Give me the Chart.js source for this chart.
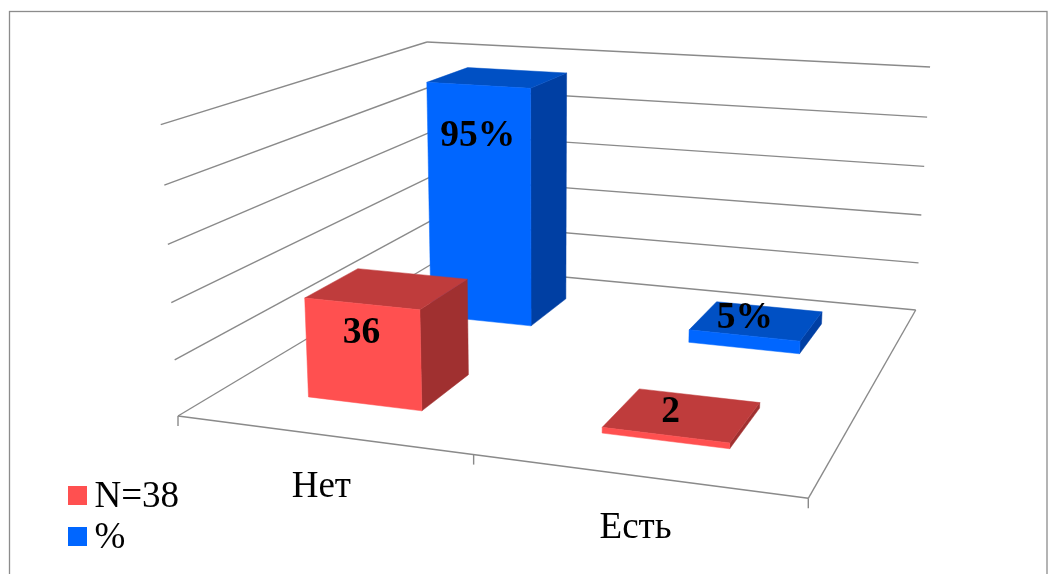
<!DOCTYPE html>
<html lang="ru">
<head>
<meta charset="utf-8">
<title>Диаграмма</title>
<style>
  html, body { margin: 0; padding: 0; background: #ffffff; }
  canvas { display: block; }
</style>
<script src="https://cdn.jsdelivr.net/npm/chart.js@4/dist/chart.umd.min.js"></script>
</head>
<body>
<canvas id="chart" width="1048" height="574"></canvas>
<script>
// Chart data
const categories = ['Нет', 'Есть'];
const seriesNames = ['N=38', '%'];
const countValues = [36, 2];
const percentValues = [95, 5];
const valueSuffixes = ['', '%'];

// Axis range of the value scale
const axisMin = 0;
const axisMax = 100;
const axisStep = 20;

// Look of the columns: front, top and side faces of each series
const faceColors = [
  { front: '#ff5050', top: '#bf3c3c', side: '#a03030' },
  { front: '#0066ff', top: '#0050c4', side: '#003fa3' }
];
const SERIF = '"Liberation Serif", "Times New Roman", serif';
const GRID_COLOR = '#8a8a8a';

// Share of a depth row taken up by a column
const DEPTH_PERCENT = 0.39;
// Height on the front face where a tall column's label sits, per series
const LABEL_RISE = [0.722, 0.795];

// Camera: projective map of (u along categories, h up, v into depth), each 0..1
const CAMERA = [
  [536.05, -24.5, 393.6, 178],
  [24.2, -297, -65.2, 416],
  [-0.1166, -0.045, 0.3262, 1]
];

function project(u, h, v) {
  const [a, b, c] = CAMERA;
  const w = c[0] * u + c[1] * h + c[2] * v + c[3];
  return {
    x: (a[0] * u + a[1] * h + a[2] * v + a[3]) / w,
    y: (b[0] * u + b[1] * h + b[2] * v + b[3]) / w
  };
}

function fillFace(ctx, points, color) {
  ctx.beginPath();
  points.forEach((p, i) => (i ? ctx.lineTo(p.x, p.y) : ctx.moveTo(p.x, p.y)));
  ctx.closePath();
  ctx.fillStyle = color;
  ctx.strokeStyle = color;
  ctx.lineWidth = 0.5;
  ctx.fill();
  ctx.stroke();
}

function strokeLine(ctx, a, b) {
  ctx.beginPath();
  ctx.moveTo(a.x, a.y);
  ctx.lineTo(b.x, b.y);
  ctx.stroke();
}

// Normalised box of one bar element, read from the chart's own scales
function columnBox(chart, datasetIndex, bar) {
  const area = chart.chartArea;
  const rows = chart.data.datasets.length;
  const u = (bar.x - area.left) / area.width;
  const halfU = bar.width / area.width / 2;
  const v = (datasetIndex + 0.5) / rows;
  const halfV = DEPTH_PERCENT / rows / 2;
  return {
    u, v,
    u0: u - halfU, u1: u + halfU,
    v0: v - halfV, v1: v + halfV,
    h0: (area.bottom - bar.base) / area.height,
    h1: (area.bottom - bar.y) / area.height
  };
}

// Bar controller that paints each bar as a column standing on the floor
class Column3dController extends Chart.BarController {
  draw() {
    const { ctx } = this.chart;
    const index = this.index;
    const colors = faceColors[index];
    this.getMeta().data.forEach((bar) => {
      const b = columnBox(this.chart, index, bar);
      fillFace(ctx, [
        project(b.u1, b.h0, b.v0), project(b.u1, b.h0, b.v1),
        project(b.u1, b.h1, b.v1), project(b.u1, b.h1, b.v0)
      ], colors.side);
      fillFace(ctx, [
        project(b.u0, b.h1, b.v0), project(b.u1, b.h1, b.v0),
        project(b.u1, b.h1, b.v1), project(b.u0, b.h1, b.v1)
      ], colors.top);
      fillFace(ctx, [
        project(b.u0, b.h0, b.v0), project(b.u1, b.h0, b.v0),
        project(b.u1, b.h1, b.v0), project(b.u0, b.h1, b.v0)
      ], colors.front);
    });
  }
}
Column3dController.id = 'column3d';
Column3dController.defaults = Chart.BarController.defaults;
Column3dController.overrides = Chart.BarController.overrides;
Chart.register(Column3dController);

// Outer frame, walls, floor and category ticks behind the columns
const roomPlugin = {
  id: 'room',
  beforeDatasetsDraw(chart) {
    const { ctx, scales } = chart;
    const area = chart.chartArea;
    ctx.save();
    ctx.strokeStyle = '#8c8c8c';
    ctx.lineWidth = 1.3;
    ctx.strokeRect(9.5, 11.5, 1037.5, 580);

    ctx.strokeStyle = GRID_COLOR;
    ctx.lineWidth = 1.4;
    scales.y.ticks.forEach((tick) => {
      const h = (area.bottom - scales.y.getPixelForValue(tick.value)) / area.height;
      if (h > 0) {
        strokeLine(ctx, project(0, h, 0), project(0, h, 1));
        strokeLine(ctx, project(0, h, 1), project(1, h, 1));
      }
    });

    const corners = [project(0, 0, 0), project(1, 0, 0), project(1, 0, 1), project(0, 0, 1)];
    corners.forEach((p, i) => strokeLine(ctx, p, corners[(i + 1) % 4]));

    // Ticks sit on the category boundaries of the front floor edge
    const n = categories.length;
    for (let i = 0; i <= n; i++) {
      const p = project(i / n, 0, 0);
      strokeLine(ctx, p, { x: p.x, y: p.y + 10 });
    }
    ctx.restore();
  },
  afterDatasetsDraw(chart) {
    const { ctx, scales } = chart;
    const area = chart.chartArea;
    ctx.save();
    ctx.fillStyle = '#000000';
    ctx.textAlign = 'center';

    // Category names below the front edge of the floor
    ctx.font = '37px ' + SERIF;
    ctx.textBaseline = 'alphabetic';
    chart.data.labels.forEach((label, i) => {
      const u = (scales.x.getPixelForValue(i) - area.left) / area.width;
      const p = project(u, 0, 0);
      ctx.fillText(label, p.x, p.y + 62);
    });

    // Value labels: on the front face of tall columns, on the lid of low ones
    ctx.font = 'bold 37.5px ' + SERIF;
    ctx.textBaseline = 'middle';
    chart.data.datasets.forEach((dataset, di) => {
      chart.getDatasetMeta(di).data.forEach((bar, i) => {
        const value = dataset.data[i];
        const b = columnBox(chart, di, bar);
        const text = value + valueSuffixes[di];
        if (value >= 10) {
          const p = project(b.u, b.h1 * LABEL_RISE[di], b.v0);
          ctx.fillText(text, p.x - 1, p.y + 1.5);
        } else {
          const p = project(b.u, b.h1, b.v);
          ctx.fillText(text, p.x - 12, p.y - 2);
        }
      });
    });
    ctx.restore();
  }
};

// Legend swatch: the square sits off-centre in its canvas to close up on the label
function swatch(color) {
  const c = document.createElement('canvas');
  c.width = 26;
  c.height = 23;
  const g = c.getContext('2d');
  g.fillStyle = color;
  g.fillRect(7, 0, 19, 19);
  return c;
}

new Chart(document.getElementById('chart'), {
  type: 'column3d',
  data: {
    labels: categories,
    datasets: [
      { label: seriesNames[0], data: countValues, backgroundColor: faceColors[0].front },
      { label: seriesNames[1], data: percentValues, backgroundColor: faceColors[1].front }
    ]
  },
  options: {
    responsive: false,
    animation: false,
    grouped: false,
    barPercentage: 0.4,
    categoryPercentage: 1,
    layout: { padding: { left: 68, top: 20, right: 20, bottom: 13 } },
    scales: {
      x: { type: 'category', display: false },
      y: {
        type: 'linear', display: false, min: axisMin, max: axisMax,
        ticks: { stepSize: axisStep }
      }
    },
    plugins: {
      tooltip: { enabled: false },
      legend: {
        position: 'left',
        align: 'end',
        labels: {
          color: '#000000',
          font: { family: SERIF, size: 37 },
          padding: 4,
          usePointStyle: true,
          pointStyleWidth: 4,
          generateLabels(chart) {
            return chart.data.datasets.map((ds, i) => ({
              text: ds.label,
              fontColor: '#000000',
              datasetIndex: i,
              pointStyle: swatch(faceColors[i].front)
            }));
          }
        }
      }
    }
  },
  plugins: [roomPlugin]
});
</script>
</body>
</html>
